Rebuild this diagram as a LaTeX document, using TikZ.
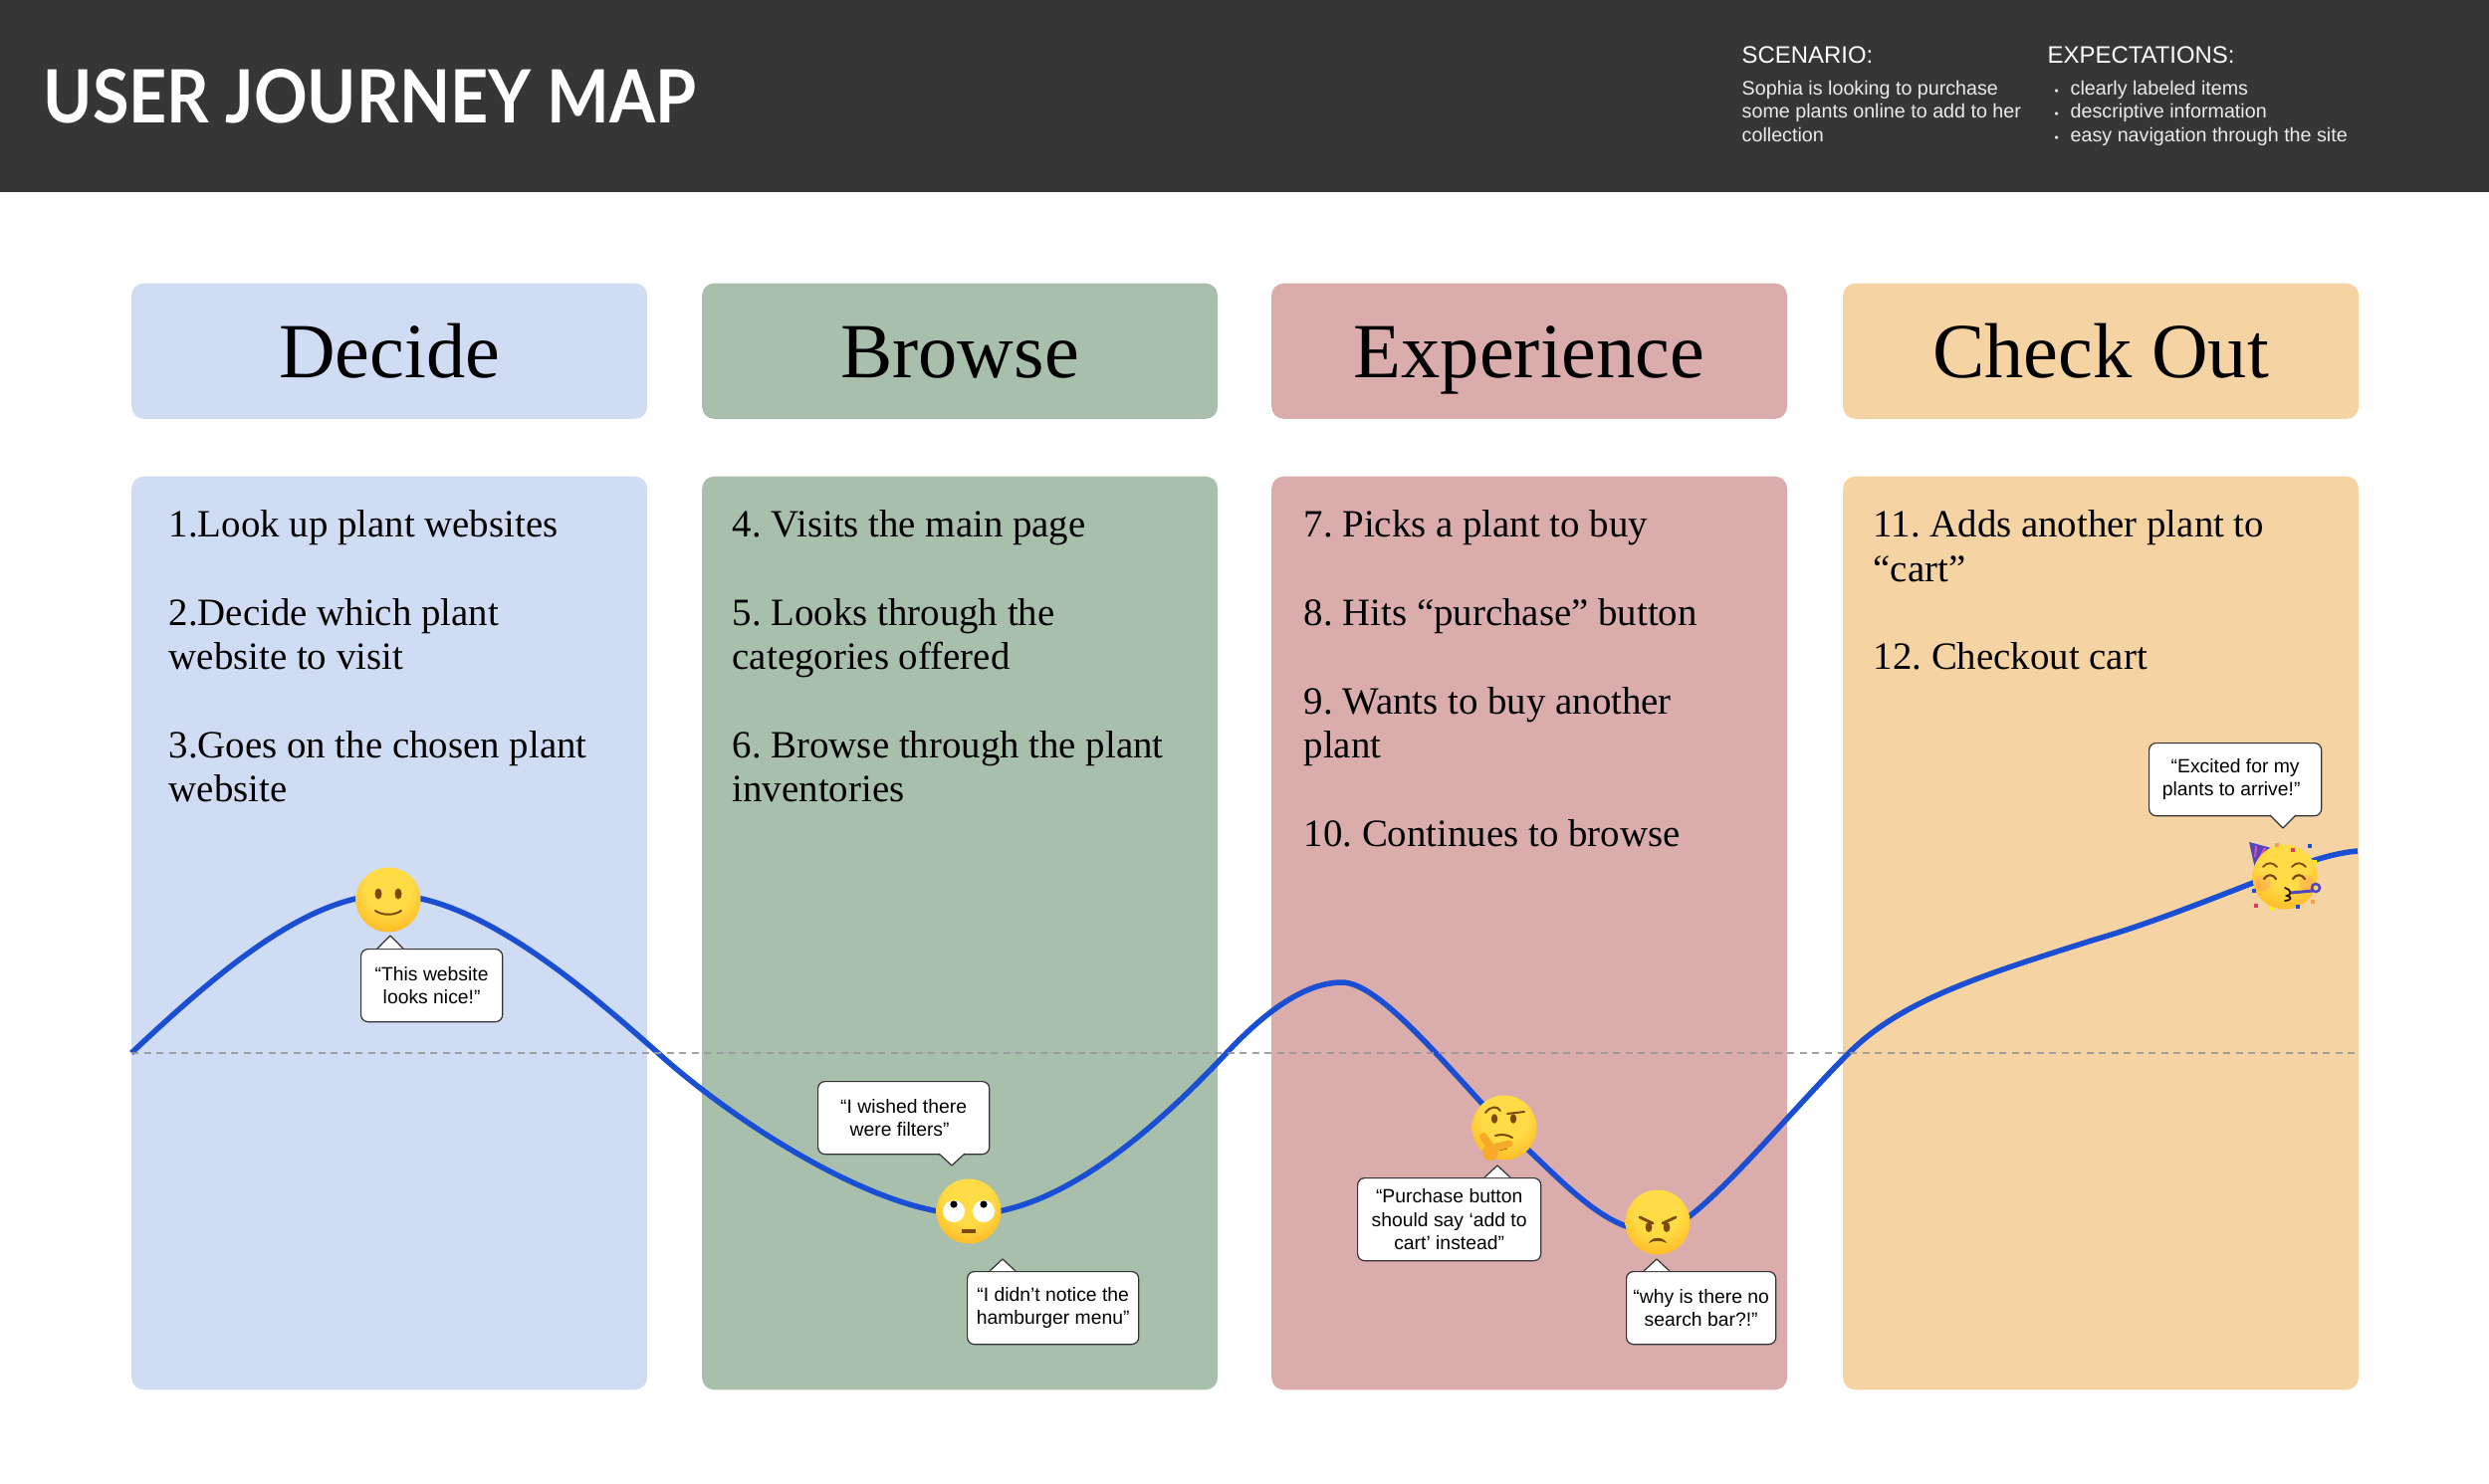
\documentclass[tikz,border=0pt]{standalone}
\usepackage{fontspec}
\setmainfont{Liberation Serif}
\newfontfamily\uifont{Liberation Sans}
\newfontfamily\titlefont{Lato}
\definecolor{bandgray}{RGB}{54,54,54}
\definecolor{decideblue}{RGB}{208,220,244}
\definecolor{browsegreen}{RGB}{168,191,172}
\definecolor{experiencepink}{RGB}{218,172,172}
\definecolor{checkoutorange}{RGB}{245,211,163}
\definecolor{curveblue}{RGB}{26,79,211}
\definecolor{facebrown}{RGB}{122,74,10}
\definecolor{faceyellow}{RGB}{255,220,70}
\definecolor{facemid}{RGB}{253,178,30}
\definecolor{faceedge}{RGB}{238,135,15}
\definecolor{handorange}{RGB}{247,170,40}
\definecolor{hatpurple}{RGB}{80,70,190}
\definecolor{hatpink}{RGB}{235,70,170}
\definecolor{confettired}{RGB}{222,60,105}
\definecolor{confettiorange}{RGB}{245,160,70}
\pgfdeclareradialshading{emojiball}{\pgfpoint{0bp}{12bp}}{color(0bp)=(faceyellow); color(18bp)=(faceyellow); color(36bp)=(facemid); color(54bp)=(faceedge); color(70bp)=(faceedge)}
\pgfdeclareradialshading{eyeball}{\pgfpoint{0bp}{0bp}}{color(0bp)=(white); color(36bp)=(white); color(50bp)=(black!35); color(70bp)=(black!35)}
\tikzset{
  headbox/.style={rounded corners=.12cm,minimum width=5.175cm,minimum height=1.36cm,anchor=north west,inner sep=0pt,text height=.56cm,text depth=.02cm,font=\fontsize{22.3}{26}\selectfont},
  panelbox/.style={rounded corners=.12cm,minimum width=5.175cm,minimum height=9.17cm,anchor=north west,inner sep=0pt},
  stepstext/.style={anchor=north west,inner sep=0pt,align=left,font=\frenchspacing\fontsize{11.05}{12.62}\selectfont},
  saybox/.style={draw=black!80,line width=.012cm,fill=white,rounded corners=.07cm,anchor=north west,inner sep=0pt,align=center,font=\uifont\fontsize{5.5}{6.63}\selectfont},
  briefhead/.style={anchor=base west,inner sep=0pt,text=white,font=\uifont\fontsize{6.8}{8}\selectfont},
  brieftext/.style={anchor=north west,inner sep=0pt,align=left,text=white!92!black,font=\uifont\fontsize{5.6}{6.63}\selectfont},
  ball/.style={shading=emojiball},
  smileface/.pic={
    \shade[ball] (0,0) circle (32.5);
    \fill[facebrown] (-10,-6) ellipse (3.5 and 5.5);
    \fill[facebrown] (10,-6) ellipse (3.5 and 5.5);
    \draw[facebrown,line width=.02cm,line cap=round] (-13,11) .. controls (-6,16) and (6,16) .. (13,11);
  },
  rollface/.pic={
    \shade[ball] (0,0) circle (32.5);
    \foreach \ex in {-15,15}{
      \shade[shading=eyeball] (\ex,0) circle (11);
      \fill[black] (\ex,-7) circle (3.6);
    }
    \fill[facebrown] (-7,18) rectangle (7,21.5);
  },
  thinkface/.pic={
    \shade[ball] (0,0) circle (32.5);
    \fill[facebrown] (-10,-9) ellipse (3.2 and 4.8);
    \fill[facebrown] (9,-9) ellipse (3.2 and 4.8);
    \draw[facebrown,line width=.02cm,line cap=round] (-19,-15) .. controls (-14,-22) and (-7,-22) .. (-4,-17);
    \draw[facebrown,line width=.02cm,line cap=round] (3,-14) -- (20,-16);
    \draw[facebrown,line width=.02cm,line cap=round] (-9,8) .. controls (-3,6) and (3,7) .. (8,10);
    \fill[handorange] (-14,25) ellipse (8 and 8);
    \draw[handorange,line width=.08cm,line cap=round] (-21,9) -- (-13,21);
    \draw[handorange,line width=.07cm,line cap=round] (-11,20) -- (5,16);
    \draw[faceedge!70!black,line width=.008cm] (-5,23) -- (3,21);
  },
  angryface/.pic={
    \shade[ball] (0,0) circle (32.5);
    \fill[facebrown] (-9,5) ellipse (3.4 and 5);
    \fill[facebrown] (9,5) ellipse (3.4 and 5);
    \draw[facebrown,line width=.028cm,line cap=round] (-18,-5) -- (-5,1);
    \draw[facebrown,line width=.028cm,line cap=round] (18,-5) -- (5,1);
    \fill[facebrown] (-9,21) .. controls (-6,14) and (6,14) .. (9,21) .. controls (4,18) and (-4,18) .. cycle;
  },
  partyface/.pic={
    % hat
    \fill[hatpurple] (-36,-35) -- (-6,-27) -- (-30,-8) -- cycle;
    \draw[hatpink,line width=.02cm] (-29,-31) -- (-30,-20);
    \draw[hatpink,line width=.025cm] (-20,-29) -- (-28,-13);
    \draw[hatpink,line width=.025cm] (-12,-27) -- (-24,-13);
    \shade[ball] (0,0) circle (32.5);
    \foreach \cx/\cy/\ccol in {-8/-32/confettiorange,8/-27/confettired,25/-31/curveblue,30/-15/yellow,-31/14/curveblue,-29/29/confettired,-14/32/yellow,13/30/curveblue,28/25/confettiorange}{
      \fill[\ccol] (\cx-2.2,\cy-2.2) rectangle (\cx+2.2,\cy+2.2);
    }
    % eyes and blower
    \fill[red!55,opacity=.25] (-22,6) circle (8);
    \fill[red!55,opacity=.25] (22,6) circle (8);
    \foreach \ex in {-15,14}{
      \draw[facebrown,line width=.018cm,line cap=round] (\ex-7,-10) .. controls (\ex-3,-15) and (\ex+3,-15) .. (\ex+7,-10);
      \draw[facebrown,line width=.022cm,line cap=round] (\ex-6,2) .. controls (\ex-3,-3) and (\ex+3,-3) .. (\ex+6,2);
    }
    \draw[black!70!facebrown,line width=.018cm,line cap=round] (0,11) .. controls (8,14) and (6,18) .. (2,19) .. controls (8,20) and (6,24) .. (0,24);
    \draw[hatpurple,line width=.03cm] (6,16) -- (28,14);
    \draw[hatpurple,line width=.025cm] (31,11) circle (4);
  }
}

\begin{document}
\begin{tikzpicture}[x=.01cm,y=-.01cm]
\useasboundingbox (0,0) rectangle (2500,1491);

% ===== TOP BAND =====
\fill[bandgray] (0,0) rectangle (2500,193);
\node[anchor=base west,inner sep=0pt,text=white,font=\titlefont\bfseries\fontsize{21}{26}\selectfont] (maptitle) at (43,124) {\scalebox{.9}[1]{USER JOURNEY MAP}};
\node[briefhead] (scenariohead) at (1749,64) {SCENARIO:};
\node[brieftext] (scenariotext) at (1749,80.5) {Sophia is looking to purchase\\some plants online to add to her\\collection};
\node[briefhead] (expecthead) at (2056,64) {EXPECTATIONS:};
\node[brieftext] (expecttext) at (2079,80.5) {\llap{\scalebox{.6}{•}\hspace{.12cm}}clearly labeled items\\\llap{\scalebox{.6}{•}\hspace{.12cm}}descriptive information\\\llap{\scalebox{.6}{•}\hspace{.12cm}}easy navigation through the site};

% ===== COLUMNS =====
\foreach \name/\xpos/\col/\label in {decide/131.5/decideblue/Decide,browse/704.5/browsegreen/Browse,experience/1276.5/experiencepink/Experience,checkout/1850.5/checkoutorange/Check Out}{
  \node[headbox,fill=\col] (\name head) at (\xpos,284) {\label};
  \node[panelbox,fill=\col] (\name panel) at (\xpos,478) {};
}
\node[stepstext] (decidesteps) at (169,512) {1.Look up plant websites\\[12.62pt]2.Decide which plant\\website to visit\\[12.62pt]3.Goes on the chosen plant\\website};
\node[stepstext] (browsesteps) at (735,512) {4. Visits the main page\\[12.62pt]5. Looks through the\\categories offered\\[12.62pt]6. Browse through the plant\\inventories};
\node[stepstext] (experiencesteps) at (1309,512) {7. Picks a plant to buy\\[12.62pt]8. Hits “purchase” button\\[12.62pt]9. Wants to buy another\\plant\\[12.62pt]10. Continues to browse};
\node[stepstext] (checkoutsteps) at (1881,512) {11. Adds another plant to\\“cart”\\[12.62pt]12. Checkout cart};

% ===== JOURNEY CURVE =====
\coordinate (curvestart) at (132,1058);
\coordinate (smilept) at (390,904);
\coordinate (crossone) at (661,1058);
\coordinate (rollpt) at (973,1217);
\coordinate (crosstwo) at (1230,1060);
\coordinate (hilltop) at (1348,987);
\coordinate (thinkpt) at (1511,1133);
\coordinate (angrypt) at (1665,1228);
\coordinate (crossthree) at (1857,1058);
\coordinate (slopept) at (2104,944);
\coordinate (partypt) at (2295,881);
\coordinate (curveend) at (2368,855);
\coordinate (midleft) at (132,1058);
\coordinate (midright) at (2368,1058);
\draw[curveblue,line width=.055cm] (curvestart)
  .. controls (220,975) and (310,899) .. ([yshift=.05cm]smilept)
  .. controls (480,899) and (590,995) .. (crossone)
  .. controls (735,1125) and (880,1220) .. ([yshift=-.03cm]rollpt)
  .. controls (1060,1220) and (1155,1140) .. (crosstwo)
  .. controls (1258,1030) and (1303,987) .. (hilltop)
  .. controls (1385,987) and (1450,1068) .. (thinkpt)
  .. controls (1570,1186) and (1610,1238) .. ([yshift=-.1cm]angrypt)
  .. controls (1700,1238) and (1790,1125) .. (crossthree)
  .. controls (1910,1005) and (1990,980) .. (slopept)
  .. controls (2170,925) and (2240,895) .. ([yshift=.06cm]partypt)
  .. controls (2320,865) and (2345,857) .. (curveend);
\draw[black!40,opacity=.9,line width=.02cm,dash pattern=on .07cm off .055cm] (midleft) -- (midright);

% ===== FACES =====
\pic at (smilept) {smileface};
\pic at (rollpt) {rollface};
\pic at (thinkpt) {thinkface};
\pic at (angrypt) {angryface};
\pic at (partypt) {partyface};

% ===== QUOTES =====
\foreach \name/\bx/\by/\bw/\bh/\tx/\ty/\ey/\msg in {
  nicequote/362/953/1.42cm/.73cm/392/940/953/{“This website\\looks nice!”},
  filterquote/821/1086/1.72cm/.73cm/956/1171/1159/{“I wished there\hspace*{.08cm}\\were filters”\hspace*{.08cm}},
  menuquote/971/1277/1.72cm/.73cm/1007/1265/1277/{“I didn’t notice the\\hamburger menu”},
  buttonquote/1363/1183/1.84cm/.83cm/1504/1171/1183/{“Purchase button\\should say ‘add to\\cart’ instead”},
  searchquote/1633/1277/1.50cm/.73cm/1664/1265/1277/{“why is there no\\search bar?!”},
  arrivequote/2158/746/1.73cm/.73cm/2293/832/819/{“Excited for my\hspace*{.08cm}\\plants to arrive!”\hspace*{.08cm}}}{
  \node[saybox,minimum width=\bw,minimum height=\bh] (\name) at (\bx,\by) {\raisebox{-.02cm}{\parbox{\bw}{\centering \msg}}};
  \fill[white] (\tx-13,\ey) -- (\tx,\ty) -- (\tx+13,\ey) -- cycle;
  \draw[black!80,line width=.012cm,line join=round] (\tx-13,\ey) -- (\tx,\ty) -- (\tx+13,\ey);
}
\end{tikzpicture}
\end{document}
